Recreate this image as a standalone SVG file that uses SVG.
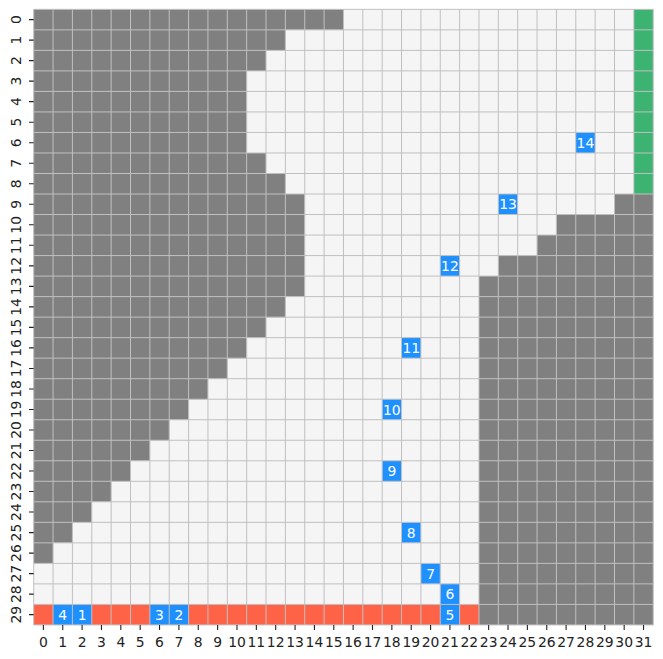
<svg xmlns="http://www.w3.org/2000/svg" width="663" height="659" viewBox="0 0 663 659">
<style>
.lt{fill:#f5f5f5}
.dk{fill:#808080}
.gr{fill:#3cb371}
.rd{fill:#ff6347}
.bl{fill:#1e90ff}
.grid{fill:none;stroke:#c0c0c0;stroke-width:1}
.tick{stroke:#222;stroke-width:1.1}
.cl{font-family:"DejaVu Sans",sans-serif;font-size:13.9px;fill:#fff;text-anchor:middle}
.ax{font-family:"DejaVu Sans",sans-serif;font-size:13.9px;fill:#222;text-anchor:middle}
</style>
<rect width="663" height="659" fill="#fff"/>
<g id="cells" transform="translate(33.7 9.33) scale(19.36 20.52)">
  <rect class="lt" x="0" y="0" width="32" height="30"/>
  <path class="dk" d="M0 0H16V1H13V2H12V3H11V7H12V8H13V9H14V14H13V15H12V16H11V17H10V18H9V19H8V20H7V21H6V22H5V23H4V24H3V25H2V26H1V27H0Z"/>
  <path class="dk" d="M32 9V30H23V13H24V12H26V11H27V10H30V9Z"/>
  <rect class="gr" x="31" y="0" width="1" height="9"/>
  <rect class="rd" x="0" y="29" width="23" height="1"/>
  <rect class="bl" x="28" y="6" width="1" height="1"/>
  <rect class="bl" x="24" y="9" width="1" height="1"/>
  <rect class="bl" x="21" y="12" width="1" height="1"/>
  <rect class="bl" x="19" y="16" width="1" height="1"/>
  <rect class="bl" x="18" y="19" width="1" height="1"/>
  <rect class="bl" x="18" y="22" width="1" height="1"/>
  <rect class="bl" x="19" y="25" width="1" height="1"/>
  <rect class="bl" x="20" y="27" width="1" height="1"/>
  <rect class="bl" x="21" y="28" width="1" height="1"/>
  <rect class="bl" x="21" y="29" width="1" height="1"/>
  <rect class="bl" x="1" y="29" width="1" height="1"/>
  <rect class="bl" x="2" y="29" width="1" height="1"/>
  <rect class="bl" x="6" y="29" width="1" height="1"/>
  <rect class="bl" x="7" y="29" width="1" height="1"/>
  <path class="grid" vector-effect="non-scaling-stroke" d="M0 0V30M1 0V30M2 0V30M3 0V30M4 0V30M5 0V30M6 0V30M7 0V30M8 0V30M9 0V30M10 0V30M11 0V30M12 0V30M13 0V30M14 0V30M15 0V30M16 0V30M17 0V30M18 0V30M19 0V30M20 0V30M21 0V30M22 0V30M23 0V30M24 0V30M25 0V30M26 0V30M27 0V30M28 0V30M29 0V30M30 0V30M31 0V30M32 0V30M0 0H32M0 1H32M0 2H32M0 3H32M0 4H32M0 5H32M0 6H32M0 7H32M0 8H32M0 9H32M0 10H32M0 11H32M0 12H32M0 13H32M0 14H32M0 15H32M0 16H32M0 17H32M0 18H32M0 19H32M0 20H32M0 21H32M0 22H32M0 23H32M0 24H32M0 25H32M0 26H32M0 27H32M0 28H32M0 29H32M0 30H32"/>
</g>
<g id="cell-labels">
  <text class="cl" x="585.46" y="147.7">14</text>
  <text class="cl" x="508.02" y="209.3">13</text>
  <text class="cl" x="449.94" y="270.8">12</text>
  <text class="cl" x="411.22" y="352.9">11</text>
  <text class="cl" x="391.86" y="414.5">10</text>
  <text class="cl" x="391.86" y="476.0">9</text>
  <text class="cl" x="411.22" y="537.6">8</text>
  <text class="cl" x="430.58" y="578.6">7</text>
  <text class="cl" x="449.94" y="599.2">6</text>
  <text class="cl" x="449.94" y="619.7">5</text>
  <text class="cl" x="62.74" y="619.7">4</text>
  <text class="cl" x="82.10" y="619.7">1</text>
  <text class="cl" x="159.54" y="619.7">3</text>
  <text class="cl" x="178.90" y="619.7">2</text>
</g>
<g id="x-axis">
  <path class="tick" d="M43.38 625V630M62.74 625V630M82.10 625V630M101.46 625V630M120.82 625V630M140.18 625V630M159.54 625V630M178.90 625V630M198.26 625V630M217.62 625V630M236.98 625V630M256.34 625V630M275.70 625V630M295.06 625V630M314.42 625V630M333.78 625V630M353.14 625V630M372.50 625V630M391.86 625V630M411.22 625V630M430.58 625V630M449.94 625V630M469.30 625V630M488.66 625V630M508.02 625V630M527.38 625V630M546.74 625V630M566.10 625V630M585.46 625V630M604.82 625V630M624.18 625V630M643.54 625V630"/>
  <text class="ax" x="43.38" y="646.6">0</text>
  <text class="ax" x="62.74" y="646.6">1</text>
  <text class="ax" x="82.10" y="646.6">2</text>
  <text class="ax" x="101.46" y="646.6">3</text>
  <text class="ax" x="120.82" y="646.6">4</text>
  <text class="ax" x="140.18" y="646.6">5</text>
  <text class="ax" x="159.54" y="646.6">6</text>
  <text class="ax" x="178.90" y="646.6">7</text>
  <text class="ax" x="198.26" y="646.6">8</text>
  <text class="ax" x="217.62" y="646.6">9</text>
  <text class="ax" x="236.98" y="646.6">10</text>
  <text class="ax" x="256.34" y="646.6">11</text>
  <text class="ax" x="275.70" y="646.6">12</text>
  <text class="ax" x="295.06" y="646.6">13</text>
  <text class="ax" x="314.42" y="646.6">14</text>
  <text class="ax" x="333.78" y="646.6">15</text>
  <text class="ax" x="353.14" y="646.6">16</text>
  <text class="ax" x="372.50" y="646.6">17</text>
  <text class="ax" x="391.86" y="646.6">18</text>
  <text class="ax" x="411.22" y="646.6">19</text>
  <text class="ax" x="430.58" y="646.6">20</text>
  <text class="ax" x="449.94" y="646.6">21</text>
  <text class="ax" x="469.30" y="646.6">22</text>
  <text class="ax" x="488.66" y="646.6">23</text>
  <text class="ax" x="508.02" y="646.6">24</text>
  <text class="ax" x="527.38" y="646.6">25</text>
  <text class="ax" x="546.74" y="646.6">26</text>
  <text class="ax" x="566.10" y="646.6">27</text>
  <text class="ax" x="585.46" y="646.6">28</text>
  <text class="ax" x="604.82" y="646.6">29</text>
  <text class="ax" x="624.18" y="646.6">30</text>
  <text class="ax" x="643.54" y="646.6">31</text>
</g>
<g id="y-axis">
  <path class="tick" d="M29 19.59H33.7M29 40.11H33.7M29 60.63H33.7M29 81.15H33.7M29 101.67H33.7M29 122.19H33.7M29 142.71H33.7M29 163.23H33.7M29 183.75H33.7M29 204.27H33.7M29 224.79H33.7M29 245.31H33.7M29 265.83H33.7M29 286.35H33.7M29 306.87H33.7M29 327.39H33.7M29 347.91H33.7M29 368.43H33.7M29 388.95H33.7M29 409.47H33.7M29 429.99H33.7M29 450.51H33.7M29 471.03H33.7M29 491.55H33.7M29 512.07H33.7M29 532.59H33.7M29 553.11H33.7M29 573.63H33.7M29 594.15H33.7M29 614.67H33.7"/>
  <text class="ax" transform="translate(21.3 19.59) rotate(-90)">0</text>
  <text class="ax" transform="translate(21.3 40.11) rotate(-90)">1</text>
  <text class="ax" transform="translate(21.3 60.63) rotate(-90)">2</text>
  <text class="ax" transform="translate(21.3 81.15) rotate(-90)">3</text>
  <text class="ax" transform="translate(21.3 101.67) rotate(-90)">4</text>
  <text class="ax" transform="translate(21.3 122.19) rotate(-90)">5</text>
  <text class="ax" transform="translate(21.3 142.71) rotate(-90)">6</text>
  <text class="ax" transform="translate(21.3 163.23) rotate(-90)">7</text>
  <text class="ax" transform="translate(21.3 183.75) rotate(-90)">8</text>
  <text class="ax" transform="translate(21.3 204.27) rotate(-90)">9</text>
  <text class="ax" transform="translate(21.3 224.79) rotate(-90)">10</text>
  <text class="ax" transform="translate(21.3 245.31) rotate(-90)">11</text>
  <text class="ax" transform="translate(21.3 265.83) rotate(-90)">12</text>
  <text class="ax" transform="translate(21.3 286.35) rotate(-90)">13</text>
  <text class="ax" transform="translate(21.3 306.87) rotate(-90)">14</text>
  <text class="ax" transform="translate(21.3 327.39) rotate(-90)">15</text>
  <text class="ax" transform="translate(21.3 347.91) rotate(-90)">16</text>
  <text class="ax" transform="translate(21.3 368.43) rotate(-90)">17</text>
  <text class="ax" transform="translate(21.3 388.95) rotate(-90)">18</text>
  <text class="ax" transform="translate(21.3 409.47) rotate(-90)">19</text>
  <text class="ax" transform="translate(21.3 429.99) rotate(-90)">20</text>
  <text class="ax" transform="translate(21.3 450.51) rotate(-90)">21</text>
  <text class="ax" transform="translate(21.3 471.03) rotate(-90)">22</text>
  <text class="ax" transform="translate(21.3 491.55) rotate(-90)">23</text>
  <text class="ax" transform="translate(21.3 512.07) rotate(-90)">24</text>
  <text class="ax" transform="translate(21.3 532.59) rotate(-90)">25</text>
  <text class="ax" transform="translate(21.3 553.11) rotate(-90)">26</text>
  <text class="ax" transform="translate(21.3 573.63) rotate(-90)">27</text>
  <text class="ax" transform="translate(21.3 594.15) rotate(-90)">28</text>
  <text class="ax" transform="translate(21.3 614.67) rotate(-90)">29</text>
</g>
</svg>
